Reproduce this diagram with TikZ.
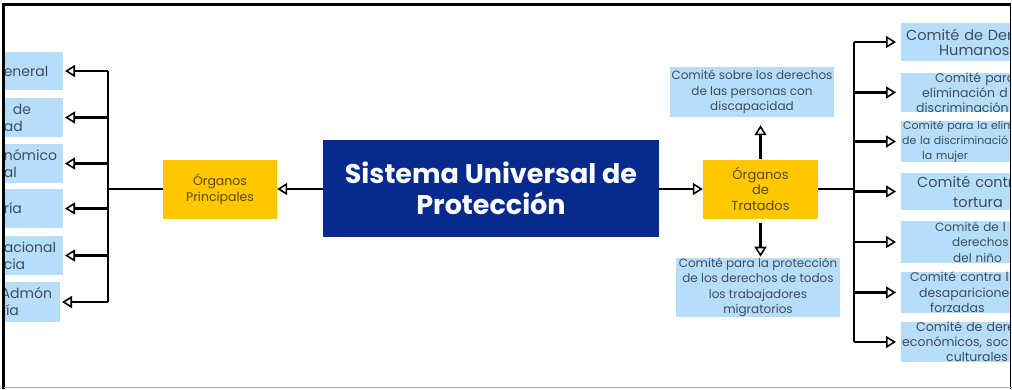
\documentclass[tikz,border=0pt]{standalone}
\usepackage{fontspec}
\setmainfont{Poppins}
\usetikzlibrary{arrows.meta}
\definecolor{boxblue}{HTML}{B6DEFB}
\definecolor{ayellow}{HTML}{FFC800}
\definecolor{navy}{HTML}{082A8C}
\definecolor{btext}{HTML}{3E4C5E}
\definecolor{ytext}{HTML}{5A4800}
\begin{document}
\begin{tikzpicture}[x=1pt,y=-1pt,
  conn/.style={line width=2.2pt, black},
  arr/.style={conn, -{Triangle[open,length=10pt,width=12pt,line width=1.6pt]}},
  bluebox/.style={fill=boxblue, inner sep=0pt, text=btext},
  lbox/.style={bluebox, anchor=east, text width=59pt, minimum height=39pt, align=left, font=\fontsize{14}{17}\selectfont},
  rbox/.style={bluebox, anchor=west, text width=150pt, minimum height=39pt, align=left},
  ybox/.style={fill=ayellow, text=ytext, align=center, inner sep=0pt},
  cbox/.style={bluebox, align=center, font=\fontsize{12}{15.5}\selectfont},
]
\useasboundingbox (0,0) rectangle (1012,389);
\begin{scope}
\clip (4,5) rectangle (1010,387);
% main
\node[fill=navy, text=white, align=center, minimum width=336pt, minimum height=97pt, inner sep=0pt,
  font=\fontsize{27}{31}\selectfont\bfseries] (main) at (491,188) {Sistema Universal de\\Protección};
% yellow
\node[ybox, minimum width=114pt, minimum height=59pt, font=\fontsize{12.5}{16}\selectfont] (OP) at (220,189) {Órganos\\Principales};
\node[ybox, minimum width=115pt, minimum height=59pt, font=\fontsize{13}{15.5}\selectfont] (OT) at (760.5,189) {Órganos\\de\\Tratados};
% center blue
\node[cbox, minimum width=164pt, minimum height=50pt] (T) at (752,92) {Comité sobre los derechos\\de las personas con\\discapacidad};
\node[cbox, minimum width=164pt, minimum height=59pt] (B) at (758,287.5) {Comité para la protección\\de los derechos de todos\\los trabajadores\\migratorios};
% left boxes
\node[lbox, minimum height=38pt] (L1) at (63,71) {eneral};
\node[lbox] (L2) at (63,117.5) {\hspace{9pt}de\\ad};
\node[lbox] (L3) at (63,163.5) {nómico\\al};
\node[lbox] (L4) at (63,208.5) {ría};
\node[lbox] (L5) at (63,255.5) {acional\\cia};
\node[lbox, minimum height=40pt] (L6) at (60,302) {Admón\\ría};
% right boxes
\node[rbox, minimum height=38pt, font=\fontsize{14.5}{15}\selectfont] (R1) at (901,42) {\hspace{5pt}Comité de Der\\\hspace{38pt}Humanos};
\node[rbox, font=\fontsize{12.5}{15}\selectfont] (R2) at (901,92.5) {\hspace{34pt}Comité para\\\hspace{21pt}eliminación d\\\hspace{15pt}discriminación r};
\node[rbox, minimum height=41pt, font=\fontsize{11}{15}\selectfont] (R3) at (901,141.5) {\hspace{2pt}Comité para la elim\\\hspace{1pt}de la discriminació\\\hspace{21pt}la mujer};
\node[rbox, minimum height=37pt, font=\fontsize{14.5}{20}\selectfont] (R4) at (901,191.5) {\hspace{16pt}Comité contr\\\hspace{52pt}tortura};
\node[rbox, minimum height=42pt, font=\fontsize{12}{15.5}\selectfont] (R5) at (901,242) {\hspace{34pt}Comité de l\\\hspace{51pt}derechos\\\hspace{52pt}del niño};
\node[rbox, font=\fontsize{12.5}{15.5}\selectfont] (R6) at (901,292.5) {\hspace{9pt}Comité contra l\\\hspace{18pt}desaparicione\\\hspace{29pt}forzadas};
\node[rbox, minimum height=40pt, font=\fontsize{12.5}{15}\selectfont] (R7) at (901,342) {\hspace{15pt}Comité de dere\\\hspace{1pt}económicos, soc\\\hspace{45pt}culturales};
% connectors
\coordinate (lbus) at (108,189);
\coordinate (rbus) at (854,189);
\draw[arr] (main.west |- OP.east) -- (OP.east);
\draw[arr] (main.east |- OT.west) -- (OT.west);
\draw[conn] (OP.west) -- (lbus);
\draw[conn] (L1.east -| lbus) -- (L6.east -| lbus);
\foreach \n in {L1,L2,L3,L4,L5,L6}
  \draw[arr, shorten >=2pt] (\n.east -| lbus) -- (\n.east);
\draw[conn] (OT.east) -- (rbus);
\draw[conn] (R1.west -| rbus) -- (R7.west -| rbus);
\foreach \n in {R1,R2,R3,R4,R5,R6,R7}
  \draw[arr, shorten >=5pt] (\n.west -| rbus) -- (\n.west);
\draw[arr, shorten >=8pt] (OT.north) -- (OT.north |- T.south);
\draw[arr, shorten <=4pt, shorten >=1pt] (OT.south) -- (OT.south |- B.north);
\end{scope}
% frame
\draw[line width=2.5pt] (3.5,389) -- (3.5,4.5) -- (1010.5,4.5);
\draw[line width=0.8pt] (1010.5,4.5) -- (1010.5,389);
\draw[gray!60, line width=1pt] (3.5,387.5) -- (1012,387.5);
\end{tikzpicture}
\end{document}
